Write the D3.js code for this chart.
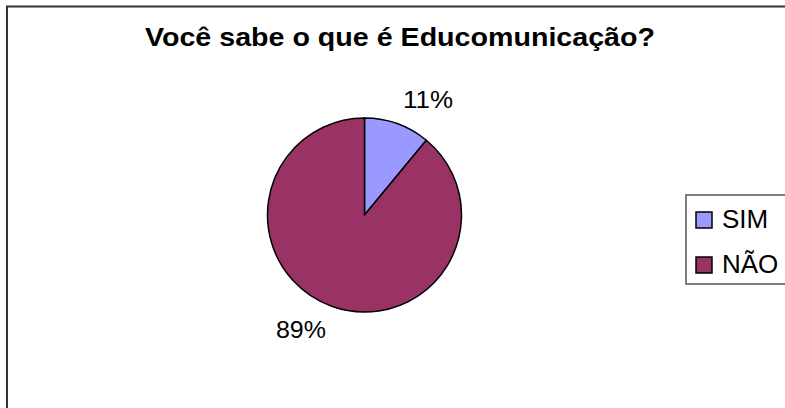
<!DOCTYPE html>
<html>
<head>
<meta charset="utf-8">
<script src="https://cdn.jsdelivr.net/npm/d3@7"></script>
<style>
  body { margin: 0; background: #fff; }
  svg { display: block; font-family: "Liberation Sans", Arial, sans-serif; }
</style>
</head>
<body>
<div id="chart"></div>
<script>
// data
var categories = ["SIM", "NÃO"];
var values = [11, 89];
var labels = ["11%", "89%"];
var colors = ["#9999FF", "#993366"];
var title = "Você sabe o que é Educomunicação?";

var width = 785, height = 408;

var svg = d3.select("#chart")
  .append("svg")
    .attr("width", width)
    .attr("height", height);

// outer frame (runs off the right and bottom edges)
svg.append("rect")
  .attr("x", 7).attr("y", 6.5)
  .attr("width", 900).attr("height", 500)
  .attr("fill", "#fff")
  .attr("stroke", "#333")
  .attr("stroke-width", 2);

// title - the original text is a bit wider than Arial, stretch it
svg.append("text")
  .attr("x", 400)
  .attr("y", 46)
  .attr("text-anchor", "middle")
  .attr("textLength", 510)
  .attr("lengthAdjust", "spacingAndGlyphs")
  .style("font-weight", "bold")
  .style("font-size", "25px")
  .text(title);

// pie
var cx = 364.5, cy = 215, r = 97;
var pie = d3.pie().sort(null).value(function(d) { return d; });
var arcs = pie(values);
var arc = d3.arc().innerRadius(0).outerRadius(r);

var g = svg.append("g")
  .attr("transform", "translate(" + cx + "," + cy + ")");

g.selectAll("path")
  .data(arcs)
  .enter()
  .append("path")
    .attr("d", arc)
    .attr("fill", function(d, i) { return colors[i]; })
    .attr("stroke", "#000")
    .attr("stroke-width", 1.5)
    .attr("stroke-linejoin", "round");

// percentage labels, placed outside the slices
var labelArc = d3.arc().innerRadius(r + 30).outerRadius(r + 30);
var labelOffsets = [[20.5, 4.5], [-20.5, -4.5]];
g.selectAll(".pct")
  .data(arcs)
  .enter()
  .append("text")
    .attr("class", "pct")
    .attr("x", function(d, i) { return labelArc.centroid(d)[0] + labelOffsets[i][0]; })
    .attr("y", function(d, i) { return labelArc.centroid(d)[1] + labelOffsets[i][1]; })
    .attr("text-anchor", "middle")
    .attr("dy", "0.35em")
    .attr("textLength", 50)
    .attr("lengthAdjust", "spacingAndGlyphs")
    .style("font-size", "23px")
    .text(function(d, i) { return labels[i]; });

// legend
var legend = svg.append("g").attr("transform", "translate(686,195)");
legend.append("rect")
  .attr("x", 0).attr("y", 0)
  .attr("width", 100).attr("height", 89)
  .attr("fill", "#fff")
  .attr("stroke", "#555")
  .attr("stroke-width", 1.5);

var item = legend.selectAll(".item")
  .data(categories)
  .enter()
  .append("g")
    .attr("class", "item")
    .attr("transform", function(d, i) { return "translate(0," + (i * 45) + ")"; });

item.append("rect")
  .attr("x", 10).attr("y", 17)
  .attr("width", 16).attr("height", 16)
  .attr("fill", function(d, i) { return colors[i]; })
  .attr("stroke", "#000")
  .attr("stroke-width", 1.5);

item.append("text")
  .attr("x", 36)
  .attr("y", 33)
  .style("font-size", "26px")
  .text(function(d) { return d; });
</script>
</body>
</html>
